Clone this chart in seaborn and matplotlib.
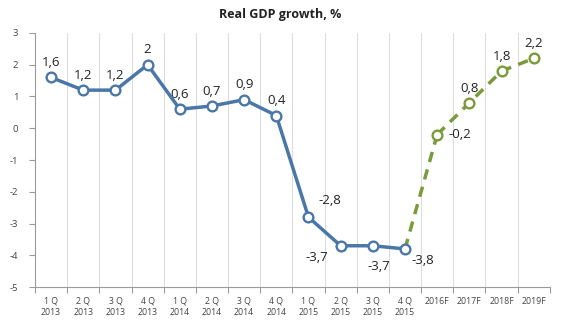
import numpy as np
import pandas as pd
import matplotlib
matplotlib.use("Agg")
import matplotlib.pyplot as plt
import seaborn as sns
from matplotlib.ticker import FixedLocator, NullFormatter

categories = ["1 Q\n2013", "2 Q\n2013", "3 Q\n2013", "4 Q\n2013",
              "1 Q\n2014", "2 Q\n2014", "3 Q\n2014", "4 Q\n2014",
              "1 Q\n2015", "2 Q\n2015", "3 Q\n2015", "4 Q\n2015",
              "2016F", "2017F", "2018F", "2019F"]
actual_values = [1.6, 1.2, 1.2, 2.0, 0.6, 0.7, 0.9, 0.4, -2.8, -3.7, -3.7, -3.8]
forecast_values = [-0.2, 0.8, 1.8, 2.2]
y_ticks = [3, 2, 1, 0, -1, -2, -3, -4, -5]

sns.set_theme(style="white")
plt.rcParams['font.family'] = ['Open Sans', 'DejaVu Sans']

blue = "#4a77a8"
green = "#7a9a3c"

n_act = len(actual_values)
act_df = pd.DataFrame({"x": np.arange(n_act), "y": actual_values})
fc_x = np.arange(n_act - 1, n_act + len(forecast_values))
fc_df = pd.DataFrame({"x": fc_x, "y": [actual_values[-1]] + forecast_values})

fig = plt.figure(figsize=(5.61, 3.33), dpi=100)
ax = fig.add_axes([0.0624, 0.138, 0.9176, 0.763])

ls = (0, (3, 2.2))
sns.lineplot(data=fc_df.iloc[:2], x="x", y="y", ax=ax, color=green, lw=2.5,
             linestyle=ls, zorder=2)
sns.lineplot(data=fc_df.iloc[1:], x="x", y="y", ax=ax, color=green, lw=2.5,
             linestyle=ls, marker="o", markersize=7,
             markerfacecolor="white", markeredgecolor=green, markeredgewidth=1.7,
             zorder=3)
sns.lineplot(data=act_df, x="x", y="y", ax=ax, color=blue, lw=2.5,
             marker="o", markersize=7, markerfacecolor="white",
             markeredgecolor=blue, markeredgewidth=1.7, zorder=4)

# data labels (offset in points, ha, va)
all_vals = actual_values + forecast_values
offsets = {
    8: (7, 7, "left", "bottom"),
    9: (-9, -4, "right", "top"),
    10: (4, -10, "center", "top"),
    11: (5, -4, "left", "top"),
    12: (8, 0, "left", "center"),
}
for i, v in enumerate(all_vals):
    lab = (f"{v:g}").replace(".", ",")
    dx, dy, ha, va = offsets.get(i, (0, 6, "center", "bottom"))
    ax.annotate(lab, (i, v), xytext=(dx, dy), textcoords="offset points",
                ha=ha, va=va, fontsize=9.5, color="#222222")

n = len(categories)
ax.set_xlim(-0.5, n - 0.5)
ax.set_ylim(-5, 3)
ax.set_xticks(np.arange(n))
ax.set_xticklabels(categories, fontsize=6.3, color="#444444", linespacing=1.35)
ax.xaxis.set_minor_locator(FixedLocator(np.arange(-0.5, n, 1.0)))
ax.xaxis.set_minor_formatter(NullFormatter())
ax.tick_params(axis="x", which="major", length=0, pad=7)
ax.tick_params(axis="x", which="minor", length=4, color="#9a9a9a", width=0.8,
               direction="out", bottom=True)
ax.grid(False)
for xv in np.arange(0.5, n, 1.0):
    ax.axvline(xv, color="#dddddd", lw=0.8, zorder=0)

ax.set_yticks(y_ticks)
ax.set_yticklabels([str(t) for t in y_ticks], fontsize=6.8, color="#444444")
ax.tick_params(axis="y", length=4, color="#9a9a9a", width=0.8, direction="out",
               left=True, pad=8)

for s in ["top", "right"]:
    ax.spines[s].set_visible(False)
ax.spines["left"].set_color("#9a9a9a")
ax.spines["bottom"].set_color("#9a9a9a")
ax.spines["left"].set_linewidth(0.8)
ax.spines["bottom"].set_linewidth(0.8)
ax.set_xlabel("")
ax.set_ylabel("")

fig.text(0.5, 0.955, "Real GDP growth, %", ha="center", va="center",
         fontsize=9, fontweight="bold", color="#222222")

fig.savefig("out.png", dpi=100)
